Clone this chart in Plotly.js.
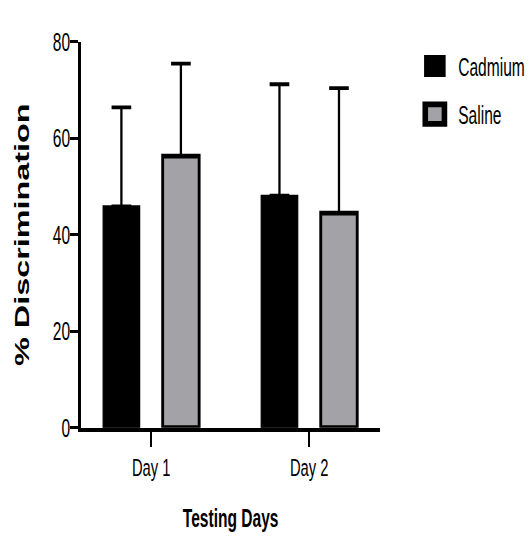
<!DOCTYPE html>
<html><head><meta charset="utf-8">
<script src="https://cdn.plot.ly/plotly-3.0.1.min.js"></script>
<style>
html,body{margin:0;padding:0;background:#fff;overflow:hidden}
#wrap{width:531px;height:541px;overflow:hidden;background:#fff}
#plot{width:648px;height:401px;transform:scale(0.8194,1.349);transform-origin:0 0}
</style></head>
<body><div id="wrap"><div id="plot"></div></div>
<script>
const days = ['Day 1', 'Day 2'];
const cadmiumMean = [45.9, 48.1];
const cadmiumSD = [20.5, 23.1];
const salineMean = [56.3, 44.5];
const salineSD = [19.2, 25.9];
const yTicks = [0, 20, 40, 60, 80];

const sans = "'Liberation Sans', Arial, sans-serif";

const traces = [
  {
    type: 'bar', name: 'Cadmium', x: days, y: cadmiumMean, legendgroup: 'c',
    marker: {color: '#000000', line: {color: '#000000', width: 1.5}},
    error_y: {type: 'data', symmetric: false, array: cadmiumSD, arrayminus: [0, 0],
              color: '#000000', thickness: 2.8, width: 12}
  },
  {
    type: 'bar', name: 'Saline', x: days, y: salineMean, legendgroup: 's',
    marker: {color: '#a3a2a7', line: {color: '#000000', width: 3.5}},
    error_y: {type: 'data', symmetric: false, array: salineSD, arrayminus: [0, 0],
              color: '#000000', thickness: 2.8, width: 12}
  }
];

const layout = {
  width: 648, height: 401,
  margin: {l: 99, r: 184, t: 31, b: 84},
  barmode: 'group', bargap: 0.247, bargroupgap: 0.387,
  paper_bgcolor: '#ffffff', plot_bgcolor: '#ffffff',
  showlegend: true,
  legend: {
    xref: 'container', yref: 'container', x: 0.775, y: 0.925,
    xanchor: 'left', yanchor: 'top', itemwidth: 47,
    font: {family: sans, size: 19, color: '#000'},
    tracegroupgap: 8, bgcolor: 'rgba(0,0,0,0)'
  },
  xaxis: {
    type: 'category', range: [-0.443, 1.449],
    showline: true, linewidth: 3, linecolor: '#000',
    ticks: 'outside', ticklen: 11, tickwidth: 2.4, tickcolor: '#000',
    tickfont: {family: sans, size: 18, color: '#000'},
    showgrid: false, zeroline: false,
    title: {text: 'Testing Days', standoff: 22,
            font: {family: sans, size: 19, color: '#000', weight: 'bold'}}
  },
  yaxis: {
    range: [0, 80], tickvals: yTicks, ticktext: yTicks.map(String),
    showline: true, linewidth: 3.6, linecolor: '#000',
    ticks: 'outside', ticklen: 10, tickwidth: 2.2, tickcolor: '#000',
    ticklabelstandoff: -4,
    tickfont: {family: sans, size: 19, color: '#000'},
    showgrid: false, zeroline: false,
    title: {text: '% Discrimination', standoff: 23,
            font: {family: sans, size: 24, color: '#000', weight: 'bold'}}
  }
};

Plotly.newPlot('plot', traces, layout, {staticPlot: true, displayModeBar: false}).then(function (gd) {
  // enlarge the legend swatches to match the reference key squares
  gd.querySelectorAll('.legend .legendpoints path').forEach(function (p) {
    var t = p.getAttribute('transform') || '';
    p.setAttribute('transform', t + ' scale(1.95,1.2)');
  });
});
</script>
</body></html>
